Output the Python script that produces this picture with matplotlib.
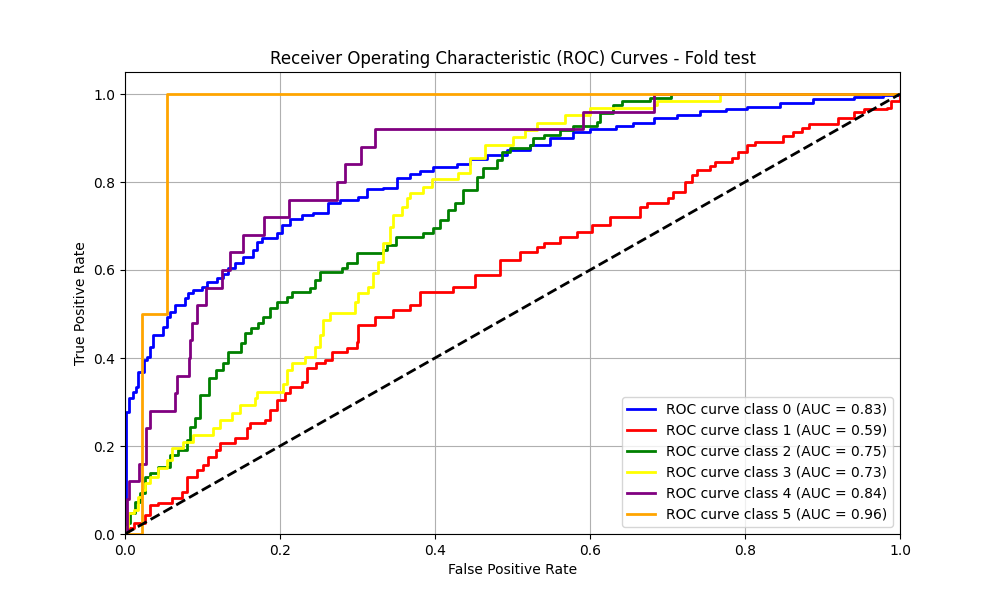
import matplotlib
matplotlib.use('Agg')
import matplotlib.pyplot as plt

#   ROC corner points (fpr, tpr per class)
fpr_0 = [0, 0.0013, 0.0056, 0.0099, 0.0142, 0.0172, 0.0245, 0.028, 0.0323, 0.0357,
         0.0495, 0.0538, 0.058, 0.0645, 0.0774, 0.0817, 0.0882, 0.099, 0.1063, 0.1183,
         0.1269, 0.1333, 0.1419, 0.1527, 0.1656, 0.17, 0.1763, 0.1957, 0.2022, 0.2129,
         0.228, 0.243, 0.2624, 0.2774, 0.301, 0.3118, 0.3333, 0.3505, 0.3677, 0.381,
         0.398, 0.428, 0.445, 0.467, 0.4925, 0.5226, 0.548, 0.578, 0.6, 0.634,
         0.656, 0.682, 0.712, 0.742, 0.776, 0.802, 0.845, 0.888, 0.94, 0.978, 1.0]
tpr_0 = [0, 0.278, 0.309, 0.323, 0.335, 0.369, 0.395, 0.403, 0.426, 0.452,
         0.471, 0.494, 0.505, 0.52, 0.536, 0.547, 0.555, 0.562, 0.573, 0.581,
         0.59, 0.604, 0.617, 0.63, 0.645, 0.664, 0.672, 0.683, 0.702, 0.717,
         0.725, 0.73, 0.752, 0.758, 0.767, 0.784, 0.786, 0.808, 0.818, 0.826,
         0.833, 0.841, 0.852, 0.861, 0.873, 0.884, 0.899, 0.914, 0.921, 0.928,
         0.935, 0.945, 0.952, 0.962, 0.965, 0.971, 0.98, 0.988, 0.994, 0.998, 1.0]

fpr_1 = [0, 0.004, 0.011, 0.0258, 0.032, 0.043, 0.06, 0.073, 0.0796, 0.0925,
         0.101, 0.1075, 0.118, 0.1226, 0.142, 0.157, 0.161, 0.1806, 0.187, 0.196,
         0.2065, 0.213, 0.228, 0.2344, 0.247, 0.258, 0.2667, 0.286, 0.299, 0.301,
         0.3226, 0.346, 0.368, 0.381, 0.4237, 0.4516, 0.484, 0.51, 0.531, 0.54,
         0.561, 0.583, 0.602, 0.626, 0.6645, 0.673, 0.701, 0.7075, 0.7226, 0.731,
         0.738, 0.755, 0.761, 0.783, 0.791, 0.802, 0.813, 0.849, 0.862, 0.873,
         0.882, 0.9075, 0.92, 0.94, 0.953, 0.983, 0.989, 1.0]
tpr_1 = [0, 0.013, 0.024, 0.043, 0.066, 0.07, 0.081, 0.096, 0.13, 0.145,
         0.157, 0.176, 0.191, 0.206, 0.2175, 0.24, 0.2515, 0.259, 0.282, 0.3045,
         0.32, 0.335, 0.346, 0.3765, 0.388, 0.395, 0.414, 0.422, 0.437, 0.475,
         0.494, 0.509, 0.52, 0.551, 0.562, 0.589, 0.623, 0.642, 0.653, 0.662,
         0.676, 0.687, 0.702, 0.721, 0.744, 0.7515, 0.763, 0.778, 0.80, 0.816,
         0.827, 0.836, 0.846, 0.854, 0.869, 0.884, 0.8916, 0.9045, 0.914, 0.922,
         0.931, 0.9326, 0.945, 0.958, 0.965, 0.9675, 0.983, 1.0]

fpr_2 = [0, 0.002, 0.0065, 0.013, 0.019, 0.0258, 0.032, 0.043, 0.058, 0.069,
         0.0796, 0.084, 0.09, 0.0968, 0.109, 0.118, 0.127, 0.133, 0.15, 0.155,
         0.163, 0.172, 0.178, 0.187, 0.196, 0.2086, 0.215, 0.239, 0.245, 0.2516,
         0.28, 0.286, 0.299, 0.333, 0.338, 0.35, 0.385, 0.398, 0.406, 0.417,
         0.426, 0.4366, 0.454, 0.462, 0.48, 0.486, 0.497, 0.5226, 0.527, 0.54,
         0.561, 0.578, 0.609, 0.613, 0.63, 0.641, 0.677, 0.705, 1.0]
tpr_2 = [0, 0.024, 0.047, 0.073, 0.093, 0.13, 0.138, 0.153, 0.18, 0.191,
         0.2136, 0.244, 0.263, 0.316, 0.354, 0.373, 0.388, 0.414, 0.433, 0.456,
         0.4675, 0.479, 0.494, 0.513, 0.528, 0.539, 0.551, 0.558, 0.577, 0.596,
         0.604, 0.615, 0.638, 0.645, 0.657, 0.676, 0.683, 0.695, 0.714, 0.736,
         0.7515, 0.782, 0.812, 0.831, 0.85, 0.869, 0.8765, 0.884, 0.899, 0.907,
         0.918, 0.927, 0.937, 0.956, 0.975, 0.983, 0.99, 1.0, 1.0]

fpr_3 = [0, 0.001, 0.004, 0.011, 0.017, 0.0215, 0.0258, 0.032, 0.043, 0.0538,
         0.06, 0.075, 0.088, 0.114, 0.1226, 0.1376, 0.148, 0.168, 0.17, 0.204,
         0.2086, 0.215, 0.232, 0.245, 0.2516, 0.256, 0.2645, 0.297, 0.301, 0.314,
         0.3204, 0.327, 0.333, 0.342, 0.346, 0.357, 0.3635, 0.368, 0.385, 0.396,
         0.43, 0.445, 0.4645, 0.501, 0.516, 0.531, 0.568, 0.6, 0.682, 0.686,
         0.768, 1.0]
tpr_3 = [0, 0.017, 0.047, 0.055, 0.085, 0.1, 0.115, 0.13, 0.149, 0.168,
         0.195, 0.21, 0.225, 0.24, 0.259, 0.274, 0.293, 0.308, 0.323, 0.342,
         0.373, 0.388, 0.403, 0.426, 0.452, 0.486, 0.5016, 0.528, 0.547, 0.562,
         0.5925, 0.619, 0.661, 0.698, 0.725, 0.744, 0.763, 0.774, 0.789, 0.806,
         0.82, 0.854, 0.884, 0.903, 0.918, 0.935, 0.952, 0.9675, 0.975, 0.985,
         1.0, 1.0]

fpr_4 = [0, 0.002, 0.005, 0.018, 0.027, 0.032, 0.0645, 0.0675, 0.082, 0.084,
         0.087, 0.093, 0.1045, 0.1256, 0.1355, 0.152, 0.179, 0.211, 0.273, 0.284,
         0.304, 0.323, 0.591, 0.682, 1.0]
tpr_4 = [0, 0.08, 0.12, 0.16, 0.24, 0.28, 0.32, 0.36, 0.40, 0.44,
         0.48, 0.52, 0.56, 0.60, 0.64, 0.68, 0.72, 0.76, 0.80, 0.84,
         0.88, 0.92, 0.96, 1.0, 1.0]

fpr_5 = [0, 0.022, 0.054, 1.0]
tpr_5 = [0, 0.5, 1.0, 1.0]

aucs = [0.83, 0.59, 0.75, 0.73, 0.84, 0.96]
colors = ['blue', 'red', 'green', 'yellow', 'purple', 'orange']

fprs = [fpr_0, fpr_1, fpr_2, fpr_3, fpr_4, fpr_5]
tprs = [tpr_0, tpr_1, tpr_2, tpr_3, tpr_4, tpr_5]

plt.figure(figsize=(10, 6), dpi=100)
for i in range(len(fprs)):
    plt.plot(fprs[i], tprs[i], color=colors[i], lw=2, drawstyle='steps-post',
             label=f'ROC curve class {i} (AUC = {aucs[i]:.2f})')
plt.plot([0, 1], [0, 1], 'k--', lw=2)
plt.xlim([0.0, 1.0])
plt.ylim([0.0, 1.05])
plt.xlabel('False Positive Rate')
plt.ylabel('True Positive Rate')
plt.title('Receiver Operating Characteristic (ROC) Curves - Fold test')
plt.legend(loc='lower right')
plt.grid()
plt.savefig('out.png')
